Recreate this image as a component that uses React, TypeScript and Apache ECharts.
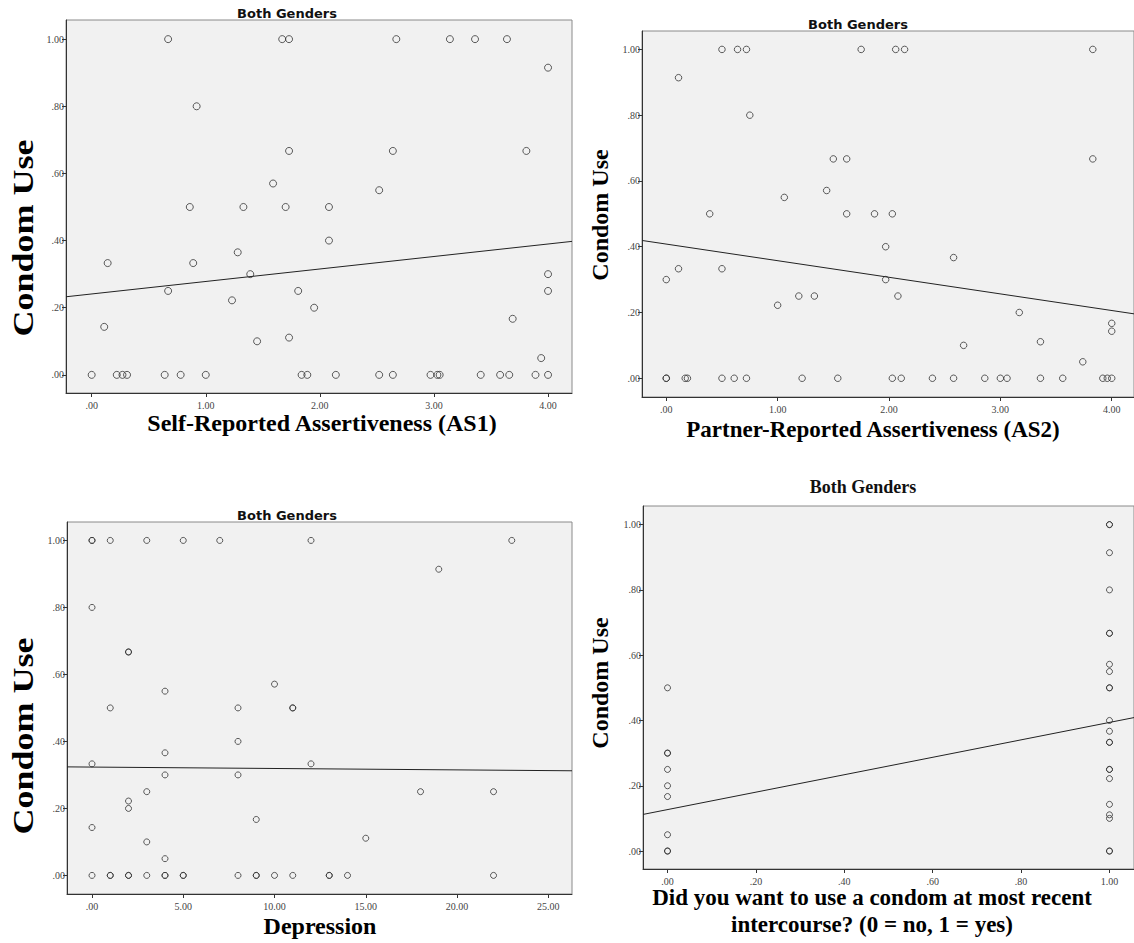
import React, { useEffect, useRef } from "react";
import * as echarts from "echarts";

// ---------- data ----------
const as1Points: [number, number][] = [
  [0.67, 1], [1.67, 1], [1.73, 1], [2.67, 1], [3.14, 1], [3.36, 1], [3.64, 1],
  [0.92, 0.8], [4.0, 0.915],
  [1.73, 0.667], [2.64, 0.667], [3.81, 0.667],
  [1.59, 0.57], [2.52, 0.55],
  [0.86, 0.5], [1.33, 0.5], [1.7, 0.5], [2.08, 0.5],
  [2.08, 0.4], [1.28, 0.365],
  [0.14, 0.333], [0.89, 0.333],
  [1.39, 0.3], [4.0, 0.3],
  [0.67, 0.25], [1.81, 0.25], [4.0, 0.25],
  [1.23, 0.222], [1.95, 0.2], [3.69, 0.167], [0.11, 0.143],
  [1.73, 0.111], [1.45, 0.1], [3.94, 0.05],
  [0, 0], [0.22, 0], [0.27, 0], [0.31, 0], [0.64, 0], [0.78, 0], [1.0, 0],
  [1.84, 0], [1.89, 0], [2.14, 0], [2.52, 0], [2.64, 0], [2.97, 0], [3.03, 0],
  [3.05, 0], [3.41, 0], [3.58, 0], [3.66, 0], [3.89, 0], [4.0, 0],
];

const as2Points: [number, number][] = [
  [0.5, 1], [0.64, 1], [0.72, 1], [1.75, 1], [2.06, 1], [2.14, 1], [3.83, 1],
  [0.11, 0.914], [0.75, 0.8],
  [1.5, 0.667], [1.62, 0.667], [3.83, 0.667],
  [1.44, 0.571], [1.06, 0.55],
  [0.39, 0.5], [1.62, 0.5], [1.87, 0.5], [2.03, 0.5],
  [1.97, 0.4], [2.58, 0.367],
  [0.11, 0.333], [0.5, 0.333],
  [0, 0.3], [1.97, 0.3],
  [1.19, 0.25], [1.33, 0.25], [2.08, 0.25],
  [1.0, 0.222], [3.17, 0.2], [4.0, 0.167], [4.0, 0.143],
  [3.36, 0.111], [2.67, 0.1], [3.74, 0.05],
  [0, 0], [0, 0], [0.17, 0], [0.19, 0], [0.5, 0], [0.61, 0], [0.72, 0],
  [1.22, 0], [1.54, 0], [2.03, 0], [2.11, 0], [2.39, 0], [2.58, 0], [2.86, 0],
  [3.0, 0], [3.06, 0], [3.36, 0], [3.56, 0], [3.92, 0], [3.96, 0], [4.0, 0],
];

const depPoints: [number, number][] = [
  [0, 1], [0, 1], [1, 1], [3, 1], [5, 1], [7, 1], [12, 1], [23, 1],
  [19, 0.914], [0, 0.8],
  [2, 0.667], [2, 0.667], [10, 0.571], [4, 0.55],
  [1, 0.5], [8, 0.5], [11, 0.5], [11, 0.5],
  [8, 0.4], [4, 0.366],
  [0, 0.333], [12, 0.333],
  [4, 0.3], [8, 0.3],
  [3, 0.25], [18, 0.25], [22, 0.25],
  [2, 0.222], [2, 0.2], [9, 0.167], [0, 0.143], [15, 0.111], [3, 0.1], [4, 0.05],
  [0, 0], [1, 0], [1, 0], [2, 0], [2, 0], [3, 0], [4, 0], [4, 0], [5, 0], [5, 0],
  [8, 0], [9, 0], [9, 0], [10, 0], [11, 0], [13, 0], [13, 0], [14, 0], [22, 0],
];

const wantPoints: [number, number][] = [
  [0, 0.5], [0, 0.3], [0, 0.3], [0, 0.25], [0, 0.2], [0, 0.167], [0, 0.05], [0, 0], [0, 0],
  [1, 1], [1, 1], [1, 0.914], [1, 0.8], [1, 0.667], [1, 0.667], [1, 0.572], [1, 0.55],
  [1, 0.5], [1, 0.5], [1, 0.4], [1, 0.367], [1, 0.333], [1, 0.333], [1, 0.25], [1, 0.25],
  [1, 0.222], [1, 0.143], [1, 0.111], [1, 0.1], [1, 0], [1, 0],
];

// regression fits: [intercept, slope]
const as1Fit = [0.241, 0.0372];
const as2Fit = [0.408, -0.0505];
const depFit = [0.3234, -0.00042];
const wantFit = [0.127, 0.267];

const yTicks = [0, 0.2, 0.4, 0.6, 0.8, 1.0];
const asTicks = [0, 1, 2, 3, 4];
const depTicks = [0, 5, 10, 15, 20, 25];
const wantTicks = [0, 0.2, 0.4, 0.6, 0.8, 1.0];

const yTitle = "Condom Use";
const panelTitle = "Both Genders";
const xTitles = [
  "Self-Reported Assertiveness (AS1)",
  "Partner-Reported Assertiveness (AS2)",
  "Depression",
  "Did you want to use a condom at most recent\nintercourse? (0 = no, 1 = yes)",
];

// ---------- layout ----------
const panels = [
  { grid: { left: 66, top: 20, width: 506, height: 373 }, x: [-0.225, 4.21], y: [-0.054, 1.057], ticks: asTicks, pts: as1Points, fit: as1Fit, size: 7 },
  { grid: { left: 642, top: 31, width: 495, height: 366 }, x: [-0.218, 4.2], y: [-0.057, 1.056], ticks: asTicks, pts: as2Points, fit: as2Fit, size: 6.5 },
  { grid: { left: 67, top: 522, width: 505, height: 372 }, x: [-1.37, 26.3], y: [-0.0555, 1.055], ticks: depTicks, pts: depPoints, fit: depFit, size: 6 },
  { grid: { left: 643, top: 506, width: 500, height: 363 }, x: [-0.0555, 1.0555], y: [-0.055, 1.057], ticks: wantTicks, pts: wantPoints, fit: wantFit, size: 6 },
];

const fmt = (v: number) => v.toFixed(2).replace(/^0\./, ".");
const SERIF = "'Liberation Serif', 'Times New Roman', serif";
const SANS = "'DejaVu Sans', Verdana, sans-serif";

export default function App() {
  const ref = useRef<HTMLDivElement>(null);
  useEffect(() => {
    if (!ref.current) return;
    const chart = echarts.init(ref.current, null, { renderer: "svg" });
    const axisCommon = (i: number) => ({
      type: "value",
      gridIndex: i,
      splitLine: { show: false },
      axisLine: { show: true, onZero: false, lineStyle: { color: "#333", width: 1 } },
    });
    const option: any = {
      animation: false,
      grid: panels.map((p) => ({
        ...p.grid,
        show: true,
        backgroundColor: "#f1f1f1",
        borderColor: "#8a8a8a",
        borderWidth: 1,
        containLabel: false,
      })),
      xAxis: panels.map((p, i) => ({
        ...axisCommon(i),
        min: p.x[0],
        max: p.x[1],
        axisTick: { show: true, length: 4, customValues: p.ticks, lineStyle: { color: "#333" } },
        axisLabel: { customValues: p.ticks, formatter: fmt, fontFamily: SERIF, fontSize: 10, color: "#444", margin: 7 },
      })),
      yAxis: panels.map((p, i) => ({
        ...axisCommon(i),
        min: p.y[0],
        max: p.y[1],
        axisTick: { show: true, length: 4, customValues: yTicks, lineStyle: { color: "#333" } },
        axisLabel: { customValues: yTicks, formatter: fmt, fontFamily: SERIF, fontSize: 10, color: "#444", margin: 2 },
      })),
      series: panels.flatMap((p, i) => [
        {
          type: "scatter",
          xAxisIndex: i,
          yAxisIndex: i,
          data: p.pts,
          symbol: "circle",
          symbolSize: p.size,
          silent: true,
          itemStyle: { color: "rgba(0,0,0,0)", borderColor: "#333", borderWidth: 1 },
        },
        {
          type: "line",
          xAxisIndex: i,
          yAxisIndex: i,
          data: [p.x[0], p.x[1]].map((x) => [x, p.fit[0] + p.fit[1] * x]),
          showSymbol: false,
          silent: true,
          lineStyle: { color: "#222", width: 1 },
        },
      ]),
      graphic: [
        { type: "text", x: 287, y: 13, style: { text: panelTitle, font: `bold 13px ${SANS}`, fill: "#111", textAlign: "center", textVerticalAlign: "middle" } },
        { type: "text", x: 858, y: 24, style: { text: panelTitle, font: `bold 13px ${SANS}`, fill: "#111", textAlign: "center", textVerticalAlign: "middle" } },
        { type: "text", x: 287, y: 515, style: { text: panelTitle, font: `bold 13px ${SANS}`, fill: "#111", textAlign: "center", textVerticalAlign: "middle" } },
        { type: "text", x: 863, y: 487, style: { text: panelTitle, font: `bold 18px ${SERIF}`, fill: "#111", textAlign: "center", textVerticalAlign: "middle" } },

        { type: "text", x: 322, y: 423, style: { text: xTitles[0], font: `bold 24px ${SERIF}`, fill: "#000", textAlign: "center", textVerticalAlign: "middle" } },
        { type: "text", x: 873, y: 429, style: { text: xTitles[1], font: `bold 23px ${SERIF}`, fill: "#000", textAlign: "center", textVerticalAlign: "middle" } },
        { type: "text", x: 320, y: 926, style: { text: xTitles[2], font: `bold 24px ${SERIF}`, fill: "#000", textAlign: "center", textVerticalAlign: "middle" } },
        { type: "text", x: 872, y: 911, style: { text: xTitles[3], font: `bold 23px ${SERIF}`, fill: "#000", textAlign: "center", textVerticalAlign: "middle", lineHeight: 27 } },

        { type: "text", x: 23, y: 238, rotation: Math.PI / 2, scaleX: 1.2, style: { text: yTitle, font: `bold 30px ${SERIF}`, fill: "#000", textAlign: "center", textVerticalAlign: "middle" } },
        { type: "text", x: 600, y: 215, rotation: Math.PI / 2, style: { text: yTitle, font: `bold 24px ${SERIF}`, fill: "#000", textAlign: "center", textVerticalAlign: "middle" } },
        { type: "text", x: 23, y: 736, rotation: Math.PI / 2, scaleX: 1.2, style: { text: yTitle, font: `bold 30px ${SERIF}`, fill: "#000", textAlign: "center", textVerticalAlign: "middle" } },
        { type: "text", x: 600, y: 683, rotation: Math.PI / 2, style: { text: yTitle, font: `bold 24px ${SERIF}`, fill: "#000", textAlign: "center", textVerticalAlign: "middle" } },
      ],
    };
    chart.setOption(option);
    return () => chart.dispose();
  }, []);
  return (
    <div
      ref={ref}
      style={{ position: "fixed", left: 0, top: 0, width: 1134, height: 943, background: "#fff" }}
    />
  );
}
